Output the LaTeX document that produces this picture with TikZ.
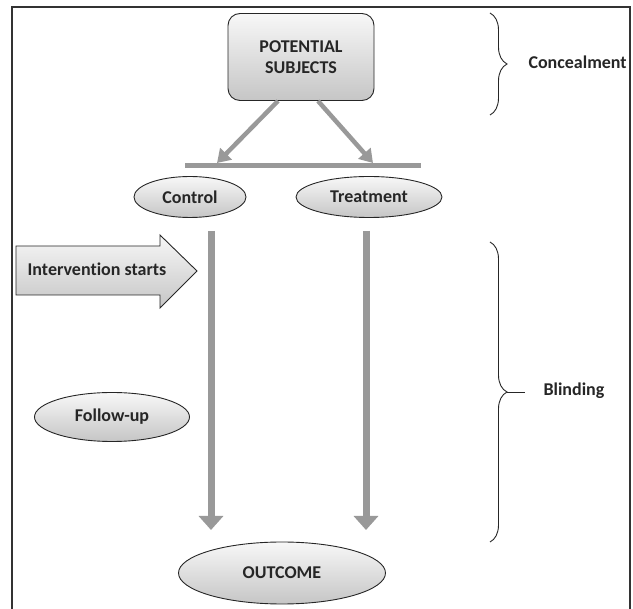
\documentclass[tikz,border=0pt]{standalone}
\usepackage{fontspec}
\setmainfont{Carlito}[Ligatures={NoCommon,NoRare,NoContextual}]
\usetikzlibrary{shapes.geometric,arrows.meta,decorations.pathreplacing}
\begin{document}
\begin{tikzpicture}[x=1pt,y=-1pt,
  lbl/.style={font=\bfseries\fontsize{18}{20}\selectfont, text=black!85},
  oval/.style={ellipse, draw=black!85, line width=0.9pt, top color=gray!6, bottom color=gray!45, inner sep=0pt, lbl},
  flow/.style={draw=black!40, line width=4.5pt, -{Triangle[width=16pt,length=13pt]}},
  bigflow/.style={draw=black!40, line width=7pt, -{Triangle[width=24pt,length=14pt]}},
  bar/.style={draw=black!40, line width=5pt},
  frame/.style={draw=black!80, line width=1.2pt},
  brc/.style={draw=black!85, line width=0.9pt, decorate, decoration={brace, amplitude=17pt, aspect=0.5}}
]
\useasboundingbox (0,0) rectangle (633,609);
% frame
\draw[frame] (12,609) -- (12,7) -- (630,7) -- (630,609);

% potential subjects
\node[lbl, draw=black!85, line width=0.9pt, rounded corners=12pt, top color=gray!6, bottom color=gray!45,
      minimum width=146pt, minimum height=87pt, align=center] (subj) at (301,57) {POTENTIAL\\[1pt]SUBJECTS};

% bar
\coordinate (barL) at (185,166);
\coordinate (barR) at (421,166);
\draw[bar] (barL) -- (barR);
\coordinate (cl) at (217,163);
\coordinate (cr) at (373,163);
\draw[flow] (subj.south) ++(-23,0) -- (cl);
\draw[flow] (subj.south) ++(17,0) -- (cr);

% groups
\node[oval, minimum width=112pt, minimum height=41pt] (control) at (190,197) {Control};
\node[oval, minimum width=146pt, minimum height=41pt] (treat) at (369,197) {Treatment};

% outcome
\node[oval, minimum width=207pt, minimum height=62pt] (outcome) at (282,573) {OUTCOME};
\coordinate (oL) at (211,530);
\coordinate (oR) at (366,530);
\draw[bigflow] (control.south) ++(21,13) -- (oL);
\draw[bigflow] (treat.south) ++(-3,13) -- (oR);

% intervention starts
\path[draw=black!85, line width=0.9pt, top color=gray!6, bottom color=gray!45]
  (16,246) -- (160,246) -- (160,235) -- (197,271) -- (160,308) -- (160,295) -- (16,295) -- cycle;
\node[lbl] (interv) at (97,269) {Intervention starts};

% follow-up
\node[oval, minimum width=155pt, minimum height=49pt] (follow) at (112,417) {Follow-up};

% braces
\draw[brc] (490,13) -- (490,115);
\node[lbl, anchor=west] (conc) at (525,62) {Concealment};
\draw[brc] (490,242) -- (490,542);
\coordinate (btip) at (507,392);
\node[lbl, anchor=west] (blind) at (540,391) {Blinding};
\draw[draw=black!85, line width=0.9pt] (btip) -- (525,392);
\end{tikzpicture}
\end{document}
